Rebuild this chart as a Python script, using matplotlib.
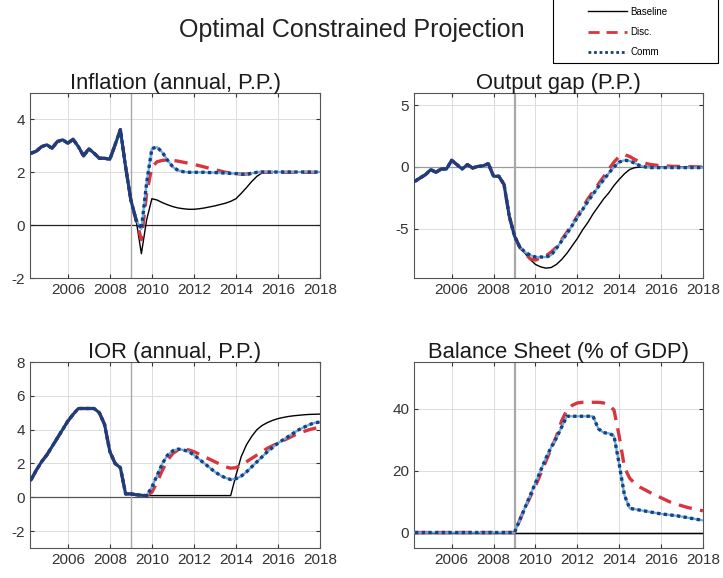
import numpy as np
import matplotlib
matplotlib.use("Agg")
import matplotlib.pyplot as plt
from matplotlib.lines import Line2D
from matplotlib.patches import Rectangle

plt.rcParams['font.family'] = ['Liberation Sans', 'DejaVu Sans']
plt.rcParams['axes.unicode_minus'] = False

# quarterly dates, 2004Q2 .. 2018Q1
dates = np.arange(2004.25, 2018.01, 0.25)

# Inflation (annual, P.P.) -- history 2004.25..2009.25, projections 2009.5..2018
infl_hist = [2.72, 2.80, 2.97, 3.04, 2.91, 3.16, 3.23, 3.10, 3.25, 2.97, 2.62,
             2.89, 2.72, 2.53, 2.53, 2.49, 3.04, 3.61, 2.20, 0.95, 0.19]
infl_base = [-1.08, 0.2, 1.0, 0.95, 0.85, 0.77, 0.7, 0.65, 0.62, 0.6, 0.6, 0.62,
             0.65, 0.69, 0.73, 0.78, 0.83, 0.9, 1.0, 1.2, 1.42, 1.65, 1.85, 1.98,
             2.0, 2.0, 2.0, 2.0, 2.0, 2.0, 2.0, 2.0, 2.0, 2.0, 2.0]
infl_disc = [-0.55, 1.2, 2.2, 2.4, 2.45, 2.47, 2.45, 2.42, 2.38, 2.34, 2.3, 2.25,
             2.2, 2.15, 2.1, 2.05, 2.0, 1.97, 1.95, 1.93, 1.93, 1.96, 1.99, 2.0,
             2.0, 2.0, 2.0, 2.0, 2.0, 2.0, 2.0, 2.0, 2.0, 2.0, 2.0]
infl_comm = [-0.15, 1.6, 2.9, 2.95, 2.75, 2.45, 2.2, 2.07, 2.02, 2.0, 2.0, 2.0,
             2.0, 1.99, 1.99, 1.98, 1.97, 1.96, 1.95, 1.93, 1.92, 1.96, 2.0, 2.01,
             2.01, 2.01, 2.01, 2.01, 2.01, 2.01, 2.01, 2.01, 2.01, 2.01, 2.01]

# Output gap (P.P.) -- history 2004.25..2009.25
gap_hist = [-1.15, -0.88, -0.62, -0.21, -0.43, -0.16, -0.16, 0.54, 0.19, -0.16, 0.19,
            -0.08, 0.05, 0.10, 0.27, -0.75, -0.75, -1.42, -4.0, -5.6, -6.5]
gap_base = [-7.0, -7.5, -7.9, -8.1, -8.2, -8.15, -7.9, -7.5, -7.0, -6.4, -5.8, -5.1,
            -4.5, -3.8, -3.2, -2.6, -2.1, -1.5, -1.0, -0.55, -0.2, -0.05, 0.0, 0.0,
            0.0, 0.0, 0.0, 0.0, 0.0, 0.0, 0.0, 0.0, 0.0, 0.0, 0.0]
gap_disc = [-7.0, -7.45, -7.55, -7.35, -7.2, -6.9, -6.5, -5.9, -5.3, -4.65, -4.0, -3.3,
            -2.6, -2.0, -1.4, -0.8, -0.2, 0.4, 0.85, 1.0, 0.85, 0.6, 0.4, 0.3,
            0.2, 0.15, 0.1, 0.08, 0.06, 0.05, 0.04, 0.03, 0.02, 0.01, 0.0]
gap_comm = [-6.9, -7.15, -7.3, -7.3, -7.3, -7.15, -6.6, -6.0, -5.4, -4.75, -4.1, -3.45,
            -2.8, -2.2, -1.6, -1.05, -0.5, 0.0, 0.4, 0.55, 0.5, 0.3, 0.1, 0.0,
            -0.05, -0.05, -0.05, -0.05, -0.05, -0.05, -0.05, -0.05, -0.05, -0.05, -0.05]

# IOR (annual, P.P.) -- history 2004.25..2009.75, projections 2010..2018
ior_hist = [1.04, 1.6, 2.1, 2.5, 3.0, 3.5, 4.0, 4.5, 4.9, 5.25, 5.25, 5.25,
            5.25, 5.0, 4.3, 2.7, 2.0, 1.75, 0.2, 0.2, 0.15, 0.12, 0.1]
ior_base = [0.1, 0.1, 0.1, 0.1, 0.1, 0.1, 0.1, 0.1, 0.1, 0.1, 0.1, 0.1,
            0.1, 0.1, 0.1, 0.1, 1.3, 2.4, 3.1, 3.6, 4.0, 4.25, 4.42, 4.55,
            4.65, 4.72, 4.78, 4.82, 4.85, 4.88, 4.9, 4.91, 4.92]
ior_disc = [0.3, 0.9, 1.6, 2.2, 2.6, 2.8, 2.85, 2.8, 2.7, 2.55, 2.4, 2.25,
            2.1, 1.95, 1.8, 1.72, 1.75, 1.9, 2.1, 2.3, 2.5, 2.7, 2.9, 3.05,
            3.2, 3.35, 3.5, 3.65, 3.8, 3.9, 4.0, 4.08, 4.15]
ior_comm = [0.6, 1.3, 2.0, 2.5, 2.75, 2.85, 2.8, 2.7, 2.5, 2.25, 2.0, 1.75,
            1.5, 1.3, 1.15, 1.05, 1.1, 1.25, 1.5, 1.8, 2.1, 2.4, 2.7, 2.95,
            3.2, 3.4, 3.6, 3.8, 4.0, 4.15, 4.3, 4.4, 4.45]

# Balance Sheet (% of GDP) -- history 2004.25..2009.0, projections 2009.25..2018
bs_hist = [0.0] * 20
bs_base = [0.0] * 36
bs_disc = [4, 8, 11.5, 15, 19, 23, 27, 31, 36, 39.5, 41, 41.8,
           42, 42, 42, 42, 41.8, 41.2, 39.5, 31, 21, 17.5, 15.8, 14.6,
           13.7, 12.8, 12.0, 11.2, 10.4, 9.6, 9.1, 8.6, 8.1, 7.7, 7.3, 7.0]
bs_comm = [4, 8, 12, 16, 20, 24, 27.5, 30.5, 34, 37.5, 37.5, 37.5,
           37.5, 37.5, 37.5, 33.5, 32.2, 32, 31.2, 22, 12, 7.8, 7.5, 7.2,
           6.9, 6.6, 6.3, 6.0, 5.8, 5.6, 5.4, 5.1, 4.8, 4.5, 4.2, 3.9]

RED = '#d8363f'
NAVY = '#1d3d7c'
LIGHT = '#62b0e0'


def panel(ax, title, hist, base, disc, comm, ylim, yticks, zcol, vlw, solid_hist=True):
    ax.grid(True, color='#dcdcdc', lw=0.7)
    ax.set_axisbelow(True)
    ax.axhline(0, color=zcol, lw=0.9, zorder=1)
    ax.axvline(2009, color='#a8a8a8', lw=vlw, zorder=1)
    ax.plot(dates, hist + base, color='black', lw=1.0, zorder=2)
    ax.plot(dates, hist + disc, color=RED, lw=2.4, dashes=(4, 2.5), zorder=3)
    ax.plot(dates, hist + comm, color=LIGHT, lw=1.6, zorder=4)
    ax.plot(dates, hist + comm, color=NAVY, lw=2.4, dashes=(1, 1), zorder=5)
    if solid_hist:
        ax.plot(dates[:len(hist)], hist, color=NAVY, lw=2.2, zorder=6)
    ax.set_xlim(2004.2, 2018)
    ax.set_ylim(*ylim)
    ax.set_xticks([2006, 2008, 2010, 2012, 2014, 2016, 2018])
    ax.set_yticks(yticks)
    ax.tick_params(direction='in', length=3, labelsize=11, colors='#333333',
                   labelcolor='#333333', top=True, right=True)
    for s in ax.spines.values():
        s.set_color('#555555')
        s.set_linewidth(0.8)
    ax.set_title(title, fontsize=15.8, pad=3, color='#1a1a1a')


fig = plt.figure(figsize=(7.23, 5.78), dpi=100)
W, H = 723.0, 578.0
ax1 = fig.add_axes([30 / W, 1 - 278 / H, 290 / W, 185 / H])
ax2 = fig.add_axes([414 / W, 1 - 278 / H, 289 / W, 185 / H])
ax3 = fig.add_axes([30 / W, 1 - 548 / H, 290 / W, 186 / H])
ax4 = fig.add_axes([414 / W, 1 - 548 / H, 289 / W, 186 / H])

panel(ax1, 'Inflation (annual, P.P.)', infl_hist, infl_base, infl_disc, infl_comm,
      (-2, 5), [-2, 0, 2, 4], '#222222', 1.0)
panel(ax2, 'Output gap (P.P.)', gap_hist, gap_base, gap_disc, gap_comm,
      (-9, 6), [-5, 0, 5], '#999999', 1.6)
panel(ax3, 'IOR (annual, P.P.)', ior_hist, ior_base, ior_disc, ior_comm,
      (-3, 8), [-2, 0, 2, 4, 6, 8], '#555555', 1.0)
panel(ax4, 'Balance Sheet (% of GDP)', bs_hist, bs_base, bs_disc, bs_comm,
      (-5, 55), [0, 20, 40], '#222222', 1.6, solid_hist=False)

fig.text(352 / W, 1 - 30 / H, 'Optimal Constrained Projection', fontsize=18,
         ha='center', va='center', color='#222222')

# legend box (top edge runs off the figure)
fig.patches.append(Rectangle((553 / W, 1 - 63 / H), 165 / W, 80 / H,
                             transform=fig.transFigure, fill=False,
                             edgecolor='black', lw=0.8))
handles = [
    Line2D([], [], color='black', lw=1.0),
    Line2D([], [], color=RED, lw=2.0, dashes=(4, 2.5)),
    Line2D([], [], color=NAVY, lw=2.0, dashes=(1, 1)),
]
fig.legend(handles, ['Baseline', 'Disc.', 'Comm'], loc='center left',
           bbox_to_anchor=(583 / W, 1 - 32 / H), frameon=False, fontsize=7,
           handlelength=4.0, handletextpad=0.4, labelspacing=1.05, borderpad=0)

fig.savefig('out.png', dpi=100)
